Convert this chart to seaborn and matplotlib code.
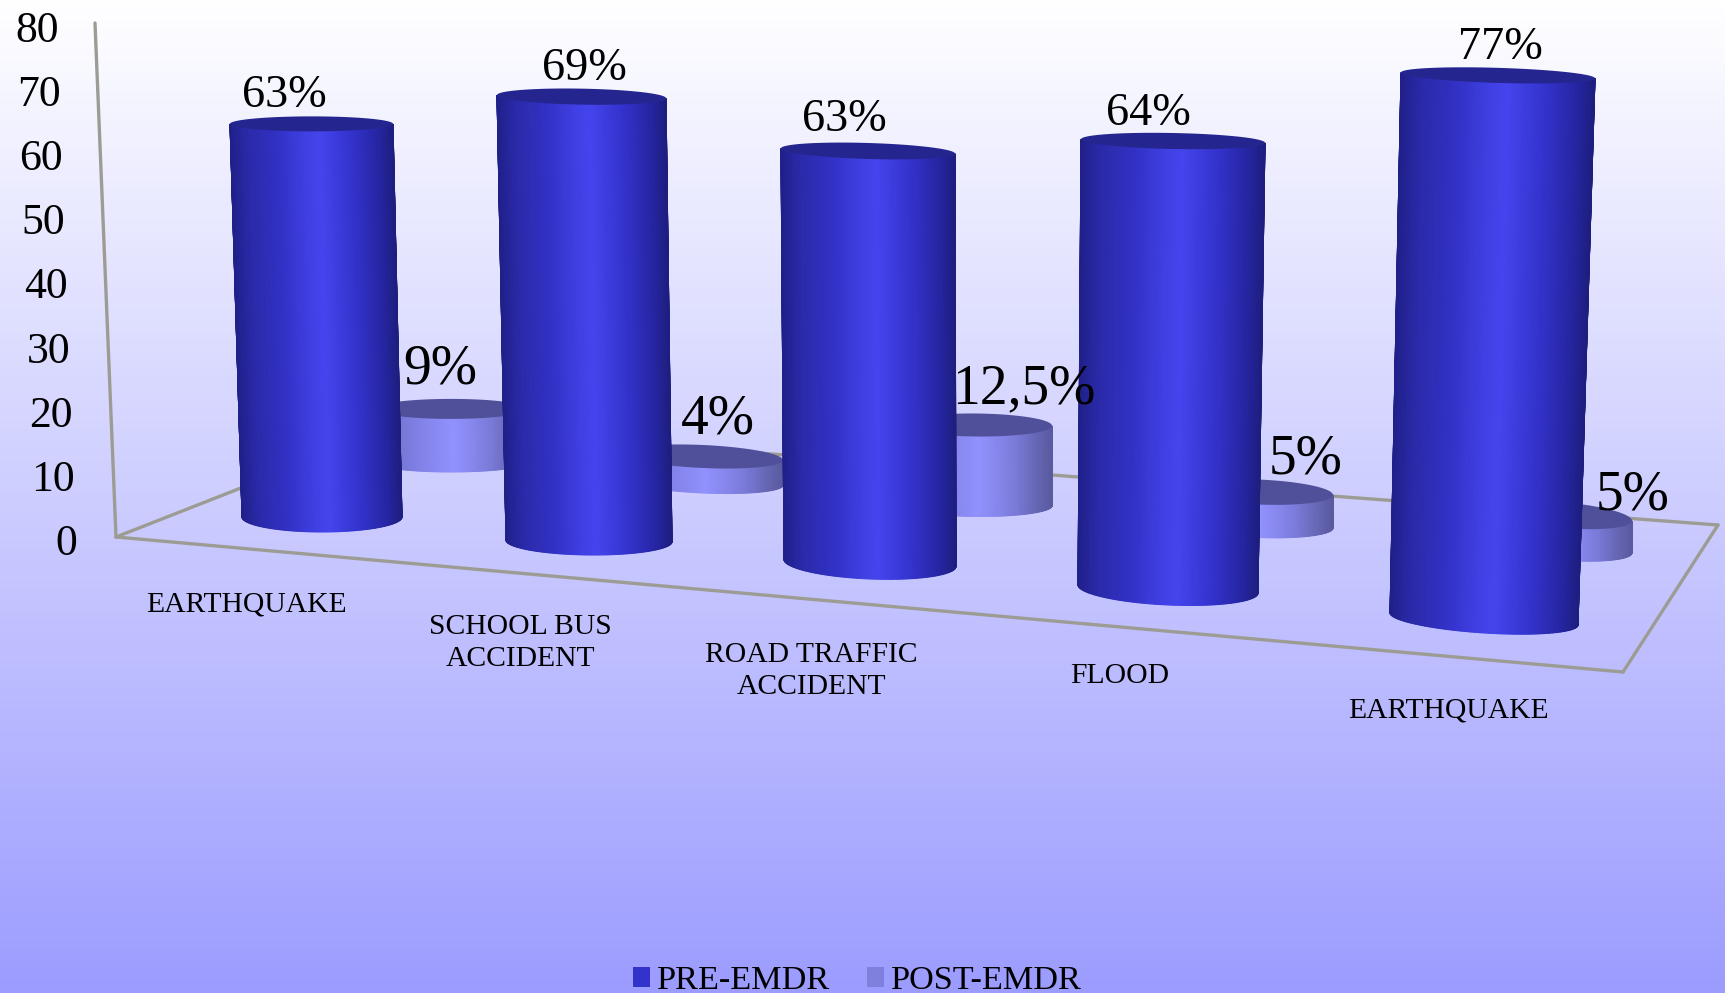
import numpy as np
import pandas as pd
import seaborn as sns
import matplotlib
matplotlib.use("Agg")
import matplotlib.pyplot as plt
from matplotlib.colors import LinearSegmentedColormap
from matplotlib.patches import Patch, Polygon
from matplotlib.transforms import Affine2D

# Chart values
categories = ["EARTHQUAKE", "SCHOOL BUS\nACCIDENT", "ROAD TRAFFIC\nACCIDENT", "FLOOD", "EARTHQUAKE"]
pre_emdr = [63, 69, 63, 64, 77]
post_emdr = [9, 4, 12.5, 5, 5]
y_ticks = [0, 10, 20, 30, 40, 50, 60, 70, 80]
series_names = ["PRE-EMDR", "POST-EMDR"]

# Perspective of each cylinder slot, in canvas pixels
# columns: base x, base y, half width, ellipse tilt, ellipse height,
#          x lean / unit, pixels / unit, width growth / unit, tilt change / unit, ellipse change / unit
PRE_SLOTS = [
    (322.0, 517.0, 80, 0.00, 15.0, -0.167, 6.24, 0.024, 0.0, -0.119),
    (589.0, 541.0, 83, 0.01, 14.0, -0.109, 6.44, 0.022, 0.00012, -0.087),
    (870.0, 563.0, 86, 0.04, 16.0, -0.032, 6.54, 0.016, -0.00016, -0.127),
    (1168.0, 589.0, 90, 0.045, 16.0, 0.078, 7.00, 0.031, -0.0004, -0.125),
    (1484.0, 619.0, 94, 0.064, 14.0, 0.182, 7.06, 0.039, -0.00044, -0.084),
]
POST_SLOTS = [
    (451.0, 462.0, 77, 0.00, 10.0, 0.0, 5.90, 0.0, 0.0, 0.0),
    (703.0, 481.5, 80, 0.045, 11.5, 0.0, 6.25, 0.0, 0.0, 0.0),
    (976.0, 505.0, 76, 0.01, 11.5, 0.0, 6.40, 0.0, 0.0, 0.0),
    (1258.0, 525.0, 75, 0.04, 12.5, 0.0, 6.60, 0.0, 0.0, 0.0),
    (1560.0, 547.0, 72, 0.08, 13.0, 0.0, 6.40, 0.0, 0.0, 0.0),
]
PRE_LABEL_XY = [(284, 96), (584, 69), (844, 120), (1148.5, 113.5), (1500, 47.5)]
POST_LABEL_XY = [(440, 370), (718, 419), (1024, 389), (1306, 459), (1633, 496)]
CATEGORY_XY = [(246.4, 604), (520, 643), (811, 671), (1120, 676), (1448, 710)]

pre_cmap = LinearSegmentedColormap.from_list(
    "pre_shade",
    [(0.0, "#20208A"), (0.1, "#2A2AA8"), (0.28, "#3131C4"), (0.45, "#3F3FE2"), (0.55, "#4545EE"),
     (0.75, "#3333CC"), (0.92, "#2525A0"), (1.0, "#1E1E80")],
)
post_cmap = LinearSegmentedColormap.from_list(
    "post_shade",
    [(0.0, "#6868BE"), (0.25, "#7E7EE2"), (0.52, "#9292FF"),
     (0.75, "#7C7CDC"), (0.92, "#6464B0"), (1.0, "#5A5AA0")],
)
PRE_TOP = "#25258F"
POST_TOP = "#50509A"
FRAME = "#9C9C94"

sns.set_theme(style="white")
plt.rcParams["font.family"] = ["Liberation Serif", "DejaVu Serif"]

W, H = 1725, 993
fig = plt.figure(figsize=(W / 100, H / 100), dpi=100)


def canvas_axes(z):
    """Full-figure axes measured in canvas pixels, y pointing down."""
    layer = fig.add_axes([0, 0, 1, 1], zorder=z, label=f"layer{z}")
    layer.set_xlim(0, W)
    layer.set_ylim(H, 0)
    layer.set_axis_off()
    return layer


back = canvas_axes(0)
ax = fig.add_axes([0, 0, 1, 1], zorder=1, label="bars")
front = canvas_axes(2)

table = pd.DataFrame({
    "slot": list(range(len(categories))) * 2,
    "value": pre_emdr + post_emdr,
    "series": [series_names[0]] * len(pre_emdr) + [series_names[1]] * len(post_emdr),
})
sns.barplot(data=table, x="slot", y="value", hue="series", hue_order=series_names,
            palette=["#3333CC", "#7F7FDD"], legend=False, ax=ax, errorbar=None)
pre_bars, post_bars = ax.containers[0], ax.containers[1]
ax.set_axis_off()

# Page background: vertical white-to-periwinkle wash
wash = np.array([255, 255, 255]) - np.linspace(0, 1, 256)[:, None, None] * np.array([99, 99, 0])
back.imshow(wash.astype(np.uint8), extent=(0, W, H, 0), aspect="auto", zorder=0, interpolation="bilinear")
back.set_xlim(0, W)
back.set_ylim(H, 0)

# Floor outline and the slanted value wall
front_left, back_left = (116, 537), (399, 426)
front_right, back_right = (1623, 672), (1718, 525)
wall_top = (95, 23)
for a, b in [(wall_top, front_left), (front_left, front_right), (front_right, back_right),
             (back_right, back_left), (back_left, front_left)]:
    back.plot([a[0], b[0]], [a[1], b[1]], color=FRAME, lw=2.4, zorder=1, solid_capstyle="round")


def draw_cylinder(bar, slot, cmap, top_colour, z):
    """Turn one seaborn bar into a shaded cylinder standing on the floor."""
    value = bar.get_height()
    cx0, cy0, hw0, tilt0, b0, lean, unit, dhw, dtilt, db = slot
    cx1 = cx0 + lean * value
    cy1 = cy0 - unit * value
    hw1 = hw0 + dhw * value
    tilt1 = tilt0 + dtilt * value
    b1 = b0 + db * value

    # keep the bar itself as the core of the cylinder
    inner = 0.88 * min(hw0, hw1)
    a = 2 * inner / bar.get_width()
    warp = Affine2D.from_values(a, 0, (cx1 - cx0) / value, (cy1 - cy0) / value,
                                cx0 - inner - a * bar.get_x(), cy0)
    bar.set_transform(warp + front.transData)
    bar.set_linewidth(0)

    # curved side wall
    theta = np.linspace(np.pi, 0, 121)
    u = np.cos(theta)
    t = np.linspace(0, 1, 2)[:, None]
    cx = cx0 + (cx1 - cx0) * t
    cy = cy0 + (cy1 - cy0) * t
    hw = hw0 + (hw1 - hw0) * t
    tilt = tilt0 + (tilt1 - tilt0) * t
    b = b0 + (b1 - b0) * t
    X = cx + hw * u
    Y = cy + tilt * hw * u + b * np.sin(theta)
    C = np.tile(u, (2, 1))
    front.pcolormesh(X, Y, C, shading="gouraud", cmap=cmap, vmin=-1, vmax=1, zorder=z)

    # flat end cap
    ring = np.linspace(0, 2 * np.pi, 121)
    cap = np.column_stack([cx1 + hw1 * np.cos(ring),
                           cy1 + tilt1 * hw1 * np.cos(ring) + b1 * np.sin(ring)])
    front.add_patch(Polygon(cap, closed=True, facecolor=top_colour, edgecolor="none", zorder=z + 0.1))


for i, bar in enumerate(post_bars):
    draw_cylinder(bar, POST_SLOTS[i], post_cmap, POST_TOP, 2 + i * 0.2)
for i, bar in enumerate(pre_bars):
    draw_cylinder(bar, PRE_SLOTS[i], pre_cmap, PRE_TOP, 4 + i * 0.2)
front.set_xlim(0, W)
front.set_ylim(H, 0)


def percent(v):
    return f"{v:g}".replace(".", ",") + "%"


for v, (x, y) in zip(pre_emdr, PRE_LABEL_XY):
    front.text(x, y, percent(v), fontsize=33.3, ha="center", va="center", color="black", zorder=8)
for v, (x, y) in zip(post_emdr, POST_LABEL_XY):
    front.text(x, y, percent(v), fontsize=40, ha="center", va="center", color="black", zorder=8)

for name, (x, y) in zip(categories, CATEGORY_XY):
    front.text(x, y, name, fontsize=21.3, ha="center", va="center", color="black",
               linespacing=1.27, multialignment="center", zorder=8)

# Value labels follow the slant of the wall
for v in y_ticks:
    front.text(77 - 18.5 * v / 80, 544 - 513 * v / 80, str(v), fontsize=31.5,
               ha="right", va="center", color="black", zorder=8)

handles = [Patch(facecolor="#3333CC", edgecolor="none", label=series_names[0]),
           Patch(facecolor="#7F7FDD", edgecolor="none", label=series_names[1])]
front.legend(handles=handles, ncol=2, frameon=False, fontsize=24.7, labelcolor="black",
             loc="lower center", bbox_to_anchor=(857 / W, -0.003),
             handlelength=0.5, handleheight=0.54, handletextpad=0.2, columnspacing=1.07,
             borderpad=0, borderaxespad=0)

fig.savefig("out.png", dpi=100)
